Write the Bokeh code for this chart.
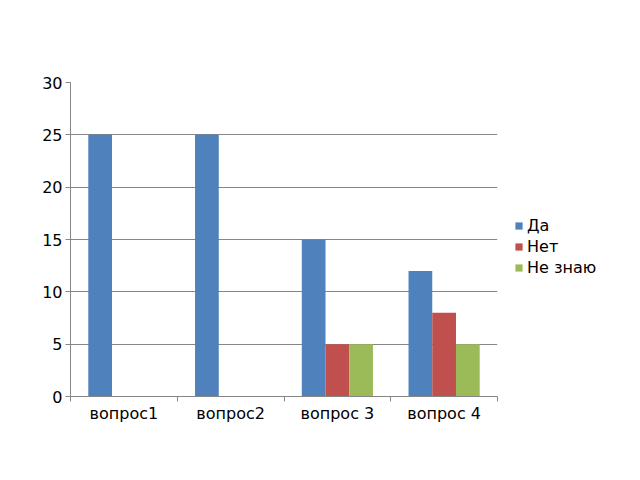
from bokeh.plotting import figure
from bokeh.models import ColumnDataSource, FixedTicker, Legend, LegendItem
from bokeh.embed import file_html
from bokeh.resources import INLINE

categories = ["вопрос1", "вопрос2", "вопрос 3", "вопрос 4"]
series_names = ["Да", "Нет", "Не знаю"]
da = [25, 25, 15, 12]
net = [0, 0, 5, 8]
ne_znayu = [0, 0, 5, 5]
y_ticks = [0, 5, 10, 15, 20, 25, 30]

colors = ["#4F81BD", "#C0504D", "#9BBB59"]
values = [da, net, ne_znayu]

FONT = "DejaVu Sans"
AX = "#868686"
FS = "16px"

p = figure(frame_width=427, frame_height=314, output_backend="svg", toolbar_location=None,
           x_range=(0, len(categories)), y_range=(0, 30),
           min_border_left=70, min_border_right=10, min_border_top=82, min_border_bottom=70)
p.outline_line_color = None
p.background_fill_color = "white"
p.border_fill_color = "white"

bw = 1.0 / 4.5
centers = [i + 0.5 for i in range(len(categories))]
offsets = [-bw, 0.0, bw]
items = []
for name, vals, col, off in zip(series_names, values, colors, offsets):
    src = ColumnDataSource(dict(x=[c + off for c in centers], top=vals))
    r = p.vbar(x="x", top="top", width=bw, bottom=0, source=src,
               fill_color=col, line_color=None)
    items.append(LegendItem(label=name, renderers=[r]))

# X axis
xa = p.xaxis[0]
xa.ticker = FixedTicker(ticks=centers, minor_ticks=list(range(len(categories) + 1)))
xa.major_label_overrides = {c: lab for c, lab in zip(centers, categories)}
xa.major_tick_line_color = None
xa.major_tick_out = 0
xa.major_tick_in = 0
xa.minor_tick_line_color = AX
xa.minor_tick_out = 5
xa.minor_tick_in = 0
xa.axis_line_color = AX
xa.major_label_text_font = FONT
xa.major_label_text_font_size = FS
xa.major_label_text_color = "black"
xa.major_label_standoff = 2

# Y axis
ya = p.yaxis[0]
ya.ticker = FixedTicker(ticks=y_ticks)
ya.axis_line_color = AX
ya.major_tick_line_color = AX
ya.major_tick_out = 5
ya.major_tick_in = 0
ya.minor_tick_line_color = None
ya.major_label_text_font = FONT
ya.major_label_text_font_size = FS
ya.major_label_text_color = "black"
ya.major_label_standoff = 3

p.xgrid.grid_line_color = None
p.ygrid.grid_line_color = AX
p.ygrid.ticker = FixedTicker(ticks=y_ticks)

legend = Legend(items=items, location=(17, 119))
legend.border_line_color = None
legend.background_fill_alpha = 0
legend.label_text_font = FONT
legend.label_text_font_size = FS
legend.label_text_color = "black"
legend.glyph_width = 9
legend.glyph_height = 9
legend.label_height = 18
legend.spacing = 2
legend.label_standoff = 4
legend.padding = 4
legend.margin = 14
p.add_layout(legend, "right")

open("out.html", "w").write(file_html(p, INLINE))
